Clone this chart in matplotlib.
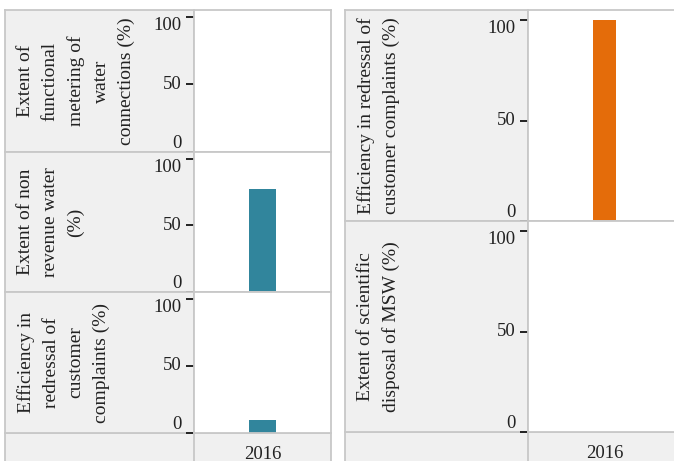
"""Faceted bar chart of water and waste indicators, 2016."""

import numpy as np
import matplotlib
matplotlib.use('Agg')
import matplotlib.pyplot as plt

plt.rcParams['font.family'] = ['Liberation Serif', 'DejaVu Serif']

# data
years = ['2016']
left_labels = ['Extent of\nfunctional\nmetering of\nwater\nconnections (%)',
               'Extent of non\nrevenue water\n(%)',
               'Efficiency in\nredressal of\ncustomer\ncomplaints (%)']
left_values = [np.nan, 77, 10]
right_labels = ['Efficiency in redressal of\ncustomer complaints (%)',
                'Extent of scientific\ndisposal of MSW (%)']
right_values = [100, np.nan]
y_ticks = [0, 50, 100]

# style
W, H = 674, 461
GRAY = '#f0f0f0'
EDGE = '#c8c8c8'
TEXT = '#222222'
LEFT_COLOR = '#31859c'
RIGHT_COLOR = '#e46c0a'

fig = plt.figure(figsize=(W / 100, H / 100), dpi=100)


def box(x0, y0, x1, y1, **kw):
    """Add axes given in pixel coordinates (origin top-left)."""
    return fig.add_axes([x0 / W, 1 - y1 / H, (x1 - x0) / W, (y1 - y0) / H], **kw)


def style_frame(ax, face):
    ax.set_facecolor(face)
    for sp in ax.spines.values():
        sp.set_color(EDGE)
        sp.set_linewidth(1.3)


def panel(x_out, x_plot, x_end, rows, labels, values, color, bar_w, strip_top):
    # bottom strip with year label
    st = box(x_out, strip_top, x_end, strip_top + 45)
    style_frame(st, GRAY)
    st.set_xticks([])
    st.set_yticks([])
    st.axvline((x_plot - x_out) / (x_end - x_out), color=EDGE, lw=1.3)

    for (y0, y1), lab, val in zip(rows, labels, values):
        cell = box(x_out, y0, x_plot, y1)
        style_frame(cell, GRAY)
        cell.set_xticks([])
        cell.set_yticks([])
        fig.text((x_out + 12) / W, 1 - (y0 + y1) / 2 / H, lab, rotation=90,
                 ha='left', va='center', multialignment='center',
                 fontsize=14, color=TEXT, linespacing=1.6)

        ax = box(x_plot, y0, x_end, y1)
        style_frame(ax, 'white')
        ax.bar(years, [val], width=bar_w, color=color)
        ax.set_xlim(-0.5, 0.5)
        ax.set_ylim(0, 105)
        ax.set_xticks([])
        ax.set_yticks(y_ticks)
        ax.tick_params(axis='y', length=6, width=1.4, color='#222222',
                       labelsize=13.5, labelcolor=TEXT, pad=3)
        tl = ax.get_yticklabels()
        tl[0].set_va('bottom')
        tl[1].set_va('center')
        tl[2].set_va('top')

    # year label under the plot column
    fig.text((x_plot + (x_end - x_plot) / 2) / W, 1 - (strip_top + 13) / H,
             years[0], ha='center', va='top', fontsize=13.5, color=TEXT)


panel(5, 194, 331, [(10, 152), (152, 292), (292, 433)],
      left_labels, left_values, LEFT_COLOR, 0.19, 433)
panel(345, 528, 681, [(10, 221), (221, 432)],
      right_labels, right_values, RIGHT_COLOR, 0.145, 432)

fig.savefig('out.png', dpi=100)
